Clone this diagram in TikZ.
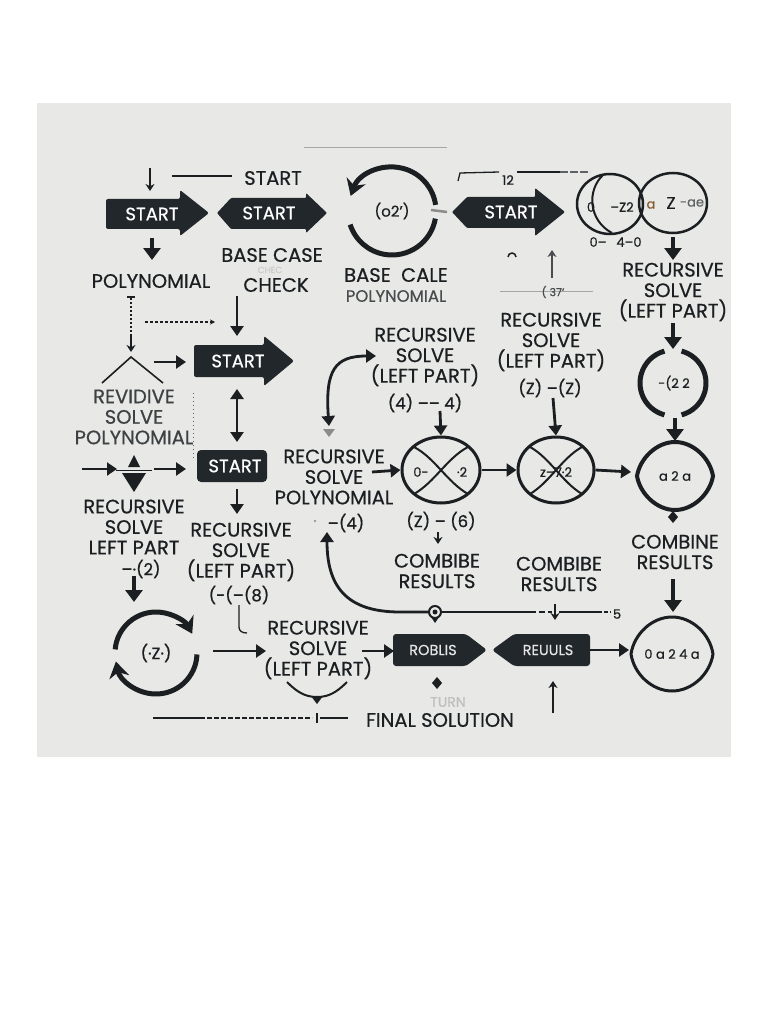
\documentclass[tikz,border=0pt]{standalone}
\usepackage{fontspec}
\setmainfont{Poppins}[FakeBold=0.6]
\usetikzlibrary{arrows.meta,shapes.geometric,calc}
\definecolor{bg}{HTML}{E8E8E6}
\definecolor{ink}{HTML}{1B1F22}
\definecolor{boxc}{HTML}{21272B}
\begin{document}
\begin{tikzpicture}[x=1pt,y=-1pt,
 lbl/.style={font=\fontsize{19.5}{20.5}\selectfont, align=center, text=ink, inner sep=0pt},
 sm/.style={font=\fontsize{13}{14}\selectfont, text=ink, inner sep=0pt},
 smb/.style={font=\fontsize{16.5}{17}\selectfont, text=ink, inner sep=0pt},
 wt/.style={font=\fontsize{18}{19}\selectfont, text=white, inner sep=0pt},
 arr/.style={line width=2.8pt, draw=ink, -{Triangle[length=10pt,width=13pt]}},
 bigarr/.style={line width=3.2pt, draw=ink, -{Triangle[length=12pt,width=17pt]}},
 darr/.style={line width=2.8pt, draw=ink, {Triangle[length=10pt,width=13pt]}-{Triangle[length=10pt,width=13pt]}},
 tarr/.style={line width=1.5pt, draw=ink, -{Stealth[length=7pt,width=9pt]}},
 tline/.style={line width=1.3pt, draw=ink},
 ring/.style={line width=5pt, draw=ink},
]
\useasboundingbox (0,0) rectangle (768,1024);
\fill[white] (0,0) rectangle (768,1024);
\fill[bg] (37,103) rectangle (731,757);

% ---------- top row ----------
\coordinate (ta1) at (150,168); \coordinate (ta2) at (150,191);
\draw[tarr] (ta1) -- (ta2);
\node[lbl] (startT) at (273,178) {START};
\coordinate (tl) at (172,176);
\draw[tline] (tl) -- (232,176);

\fill[boxc, rounded corners=2pt] (106,199) -- (180,199) -- (180,190) -- (209,213) -- (180,236) -- (180,229) -- (106,229) -- cycle;
\node[wt] (b1) at (152,214) {START};
\fill[boxc, rounded corners=1pt] (217,213) -- (231,198) -- (306,198) -- (306,193) -- (327,213) -- (306,233) -- (306,229) -- (231,229) -- cycle;
\node[wt] (b2) at (269,213) {START};

\coordinate (d1a) at (152,238);
\coordinate (d1b) at (152,260);
\node[lbl] (poly1) at (151,281) {POLYNOMIAL};
\draw[bigarr] (d1a) -- (d1b);

\node[lbl] (base1) at (272,255) {BASE CASE};
\node[font=\fontsize{9}{10}\selectfont, text=black!20, inner sep=0pt] (ghost) at (270,270) {CHEC};
\node[lbl] (check) at (276,285) {CHECK};

% ring 1
\coordinate (c1) at (392,211);
\draw[ring, {Stealth[length=16pt,width=20pt]}-] (c1) ++(200:44) arc[start angle=200,end angle=352,radius=44];
\draw[ring] (c1) ++(10:44) arc[start angle=10,end angle=162,radius=44];
\node[font=\fontsize{15}{16}\selectfont, text=ink, inner sep=0pt] (c1t) at (c1) {(o2')};
\draw[black!45, line width=2.5pt] (431,210) -- (447,212);

\node[lbl] (base2) at (396,275) {BASE~ CALE};
\node[font=\fontsize{16.5}{17}\selectfont, text=ink!80, inner sep=0pt] (poly2) at (396,296) {POLYNOMIAL};

\draw[black!35, line width=1pt] (304,148) -- (447,148);
\draw[tline] (458,181) -- (460,173) -- (499,172);
\node[sm] (n12) at (508,180) {12};
\draw[tline] (517,172) -- (560,172);
\draw[tline, ink!70, dash pattern=on 8pt off 2pt] (560,172) -- (590,172);

\fill[boxc, rounded corners=1pt] (452,212) -- (467,197) -- (535,197) -- (535,188) -- (565,212) -- (535,236) -- (535,228) -- (467,228) -- cycle;
\node[wt] (b3) at (511,212) {START};

% double circle
\node[ellipse, draw=ink, line width=2.5pt, minimum width=66pt, minimum height=60pt, inner sep=0pt] (c2) at (610,204) {};
\node[ellipse, draw=ink, line width=2.5pt, minimum width=68pt, minimum height=60pt, inner sep=0pt] (c3) at (673,203) {};
\draw[ink, line width=2pt] (603,175) .. controls (587,190) and (588,220) .. (612,233);
\node[sm] (c2a) at (591,207) {0};
\node[sm] (c2b) at (622,207) {–Z2};
\node[sm, text=brown!70!black] (c2c) at (651,205) {a};
\node[font=\fontsize{17}{18}\selectfont, text=ink, inner sep=0pt] (c2d) at (671,203) {Z};
\node[sm, text=ink!70] (c2e) at (692,203) {-ae};
\node[sm] (c2f) at (598,242) {0–};
\node[sm] (c2g) at (629,242) {4–0};

\node[lbl] (rsR) at (673,292) {RECURSIVE\\SOLVE\\(LEFT PART)};
\coordinate (d2a) at (673,237);
\coordinate (d2b) at (673,260);
\draw[bigarr] (d2a) -- (d2b);

% faint marks
\draw[ink, line width=1.5pt] (508,257) arc[start angle=180,end angle=360,radius=4];
\draw[tarr, draw=ink!80] (552,278) -- (552,250);
\draw[black!35, line width=1pt] (500,291) -- (593,291);
\node[font=\fontsize{11}{12}\selectfont, text=ink!80, inner sep=0pt] at (553,292) {(~37'};

% ---------- middle left ----------
\draw[ink, line width=1.3pt] (127,297) -- (135,297);
\draw[ink, line width=1.2pt, dash pattern=on 2pt off 2pt] (131,298) -- (131,334);
\draw[tarr] (131,334) -- (131,352);
\draw[ink, line width=1.2pt, dash pattern=on 3pt off 2pt, -{Stealth[length=5pt,width=5pt]}] (145,322) -- (215,322);
\draw[ink, line width=1.6pt] (102,383) -- (131,357) -- (163,383);
\draw[arr] (154,362) -- (186,362);

\fill[boxc, rounded corners=2pt] (194,345) -- (264,345) -- (264,336) -- (294,361) -- (264,386) -- (264,377) -- (194,377) -- cycle;
\node[wt] (b4) at (238,361) {START};
\draw[arr] (237,296) -- (237,336);
\draw[darr] (237,389) -- (237,442);

\node[lbl, text=ink!85] (revid) at (134,417) {REVIDIVE\\SOLVE\\POLYNOMIAL};
\draw[ink!70, line width=1pt, dash pattern=on 1pt off 3pt] (193,393) -- (193,458);

\draw[arr, line width=2pt] (82,469) -- (117,469);
\fill[ink] (128,467) -- (134,455) -- (140,467) -- cycle;
\fill[ink] (122,473) -- (146,473) -- (134,492) -- cycle;
\draw[ink, line width=1pt] (116,470) -- (152,470);
\draw[arr] (154,469) -- (186,469);

\fill[boxc, rounded corners=4pt] (197,450) rectangle (267,482);
\node[wt] (b5) at (235,466) {START};
\draw[arr] (237,489) -- (237,514);

\node[lbl] (rsL) at (134,527) {RECURSIVE\\SOLVE\\LEFT PART};
\node[smb] (n2) at (141,569) {–·(2)};
\draw[bigarr] (134,576) -- (134,602);

\node[lbl] (rsM) at (241,552) {RECURSIVE\\SOLVE\\(LEFT PART)};
\node[smb] (n8) at (239,595) {(-(–(8)};
\draw[tline] (239,605) -- (239,627) .. controls (239,631) and (242,633) .. (247,633);

% curved double arrow
\draw[darr] (329,426) .. controls (325,370) and (335,356) .. (376,356);
\fill[black!45] (323,429) -- (335,429) -- (329,437) -- cycle;

\node[lbl] (rsC) at (425,357) {RECURSIVE\\SOLVE\\(LEFT PART)};
\node[smb] (n4) at (425,403) {(4) –– 4)};

\node[lbl] (rsP) at (334,477) {RECURSIVE\\SOLVE\\POLYNOMIAL};
\node[smb] (n4b) at (346,523) {–(4)};
\fill[black!40] (315,521) circle[radius=1.3];

% X circle 1
\node[ellipse, draw=ink, line width=3pt, minimum width=78pt, minimum height=66pt, inner sep=0pt] (x1) at (441,470) {};
\draw[ink, line width=2pt] (414,447) .. controls (435,458) and (447,482) .. (468,494);
\draw[ink, line width=2pt] (468,447) .. controls (447,458) and (435,482) .. (414,494);
\node[sm] at (421,472) {0-};
\node[sm] at (462,472) {·2};
\draw[arr] (440,411) -- (x1.north);
\draw[arr] (372,472) -- (x1.west);

\node[smb] (n6) at (441,521) {(Z) – (6)};
\draw[tarr, line width=1.2pt] (438,532) -- (438,544);
\node[lbl] (cb1) at (437,571) {COMBIBE\\RESULTS};

% X circle 2
\node[ellipse, draw=ink, line width=3pt, minimum width=76pt, minimum height=66pt, inner sep=0pt] (x2) at (556,470) {};
\draw[ink, line width=2pt] (530,447) .. controls (550,458) and (562,482) .. (582,494);
\draw[ink, line width=2pt] (582,447) .. controls (562,458) and (550,482) .. (530,494);
\node[sm] at (556,472) {z–7·2};
\draw[arr] (x1.east) -- (x2.west);

\node[lbl] (rsC2) at (551,342) {RECURSIVE\\SOLVE\\(LEFT PART)};
\node[smb] (nz) at (550,388) {(Z) –(Z)};
\draw[arr] (553,398) -- (x2.north);

% right column
\coordinate (c4) at (673,383);
\draw[bigarr] (673,323) -- (673,349);
\draw[ring] (c4) ++(105:33) arc[start angle=105,end angle=255,radius=33];
\draw[ring] (c4) ++(-75:33) arc[start angle=-75,end angle=75,radius=33];
\node[sm] at (674,383) {-(2 2};
\draw[bigarr] (675,418) -- (675,441);

\draw[ink, line width=4pt] (637,476) .. controls (640,458) and (657,442) .. (675,442) .. controls (693,442) and (710,458) .. (713,476) .. controls (710,494) and (693,510) .. (675,510) .. controls (657,510) and (640,494) .. (637,476) -- cycle;
\coordinate (c5) at (675,476);
\node[sm] (c5t) at (c5) {a 2 a};
\draw[arr] (x2.east) -- (631,472);
\fill[ink] (673,511) -- (678,517) -- (673,523) -- (668,517) -- cycle;

\node[lbl] (cbR) at (675,552) {COMBINE\\RESULTS};
\draw[ink, line width=3pt] (631,654) .. controls (634,634) and (652,617) .. (672,617) .. controls (692,617) and (710,634) .. (713,654) .. controls (710,674) and (692,691) .. (672,691) .. controls (652,691) and (634,674) .. (631,654) -- cycle;
\coordinate (c6) at (672,654);
\node[sm] (c6t) at (c6) {0 a 2 4 a};
\draw[bigarr] (673,579) -- (673,612);

\node[lbl] (cb2) at (559,574) {COMBIBE\\RESULTS};

% big return curve
\node[circle, draw=ink, line width=2pt, inner sep=0pt, minimum size=12pt] (mk) at (435,612) {};
\fill[ink] (mk) circle[radius=2.5];
\fill[ink] (431,617) -- (439,617) -- (435,623) -- cycle;
\coordinate (rtip) at (327,532);
\draw[arr] (mk.west) -- (400,612) .. controls (345,612) and (327,585) .. (rtip);
\draw[ink, line width=1.5pt] (mk.east) -- (530,612);
\draw[ink, line width=1.3pt, dash pattern=on 6pt off 3pt] (530,612) -- (552,612);
\draw[tarr, line width=1.2pt] (555,604) -- (555,620);
\draw[ink, line width=1.3pt] (559,612) -- (598,612);
\draw[ink, line width=1.3pt, dash pattern=on 4pt off 2pt] (598,612) -- (611,612);
\node[sm] (n5) at (617,614) {5};

% result boxes
\fill[boxc, rounded corners=3pt] (393,634) -- (466,634) -- (487,650) -- (466,666) -- (393,666) -- cycle;
\node[font=\fontsize{14.5}{15}\selectfont, text=white!90!black, inner sep=0pt] (rob) at (433,650) {ROBLIS};
\fill[boxc, rounded corners=3pt] (492,650) -- (514,634) -- (590,634) -- (590,666) -- (514,666) -- cycle;
\node[font=\fontsize{14.5}{15}\selectfont, text=white!90!black, inner sep=0pt] (reu) at (548,650) {REUULS};
\draw[arr] (590,650) -- (629,650);

\fill[ink] (437,677) -- (442,683) -- (437,689) -- (432,683) -- cycle;
\node[font=\fontsize{14}{15}\selectfont, text=black!25, inner sep=0pt] (turn) at (448,702) {TURN};
\draw[tarr, line width=1.2pt] (553,713) -- (553,681);

% bottom left ring
\coordinate (c7) at (156,653);
\draw[ring, -{Stealth[length=16pt,width=20pt]}] (c7) ++(185:41) arc[start angle=185,end angle=332,radius=41];
\draw[ring, -{Stealth[length=16pt,width=20pt]}] (c7) ++(2:41) arc[start angle=2,end angle=168,radius=41];
\node[smb] (c7t) at (c7) {(·Z·)};
\node[lbl] (rsB) at (318,650) {RECURSIVE\\SOLVE\\(LEFT PART)};
\draw[arr] (213,651) -- (266,651);
\draw[arr] (362,651) -- (394,651);
\draw[ink, line width=2pt] (287,682) .. controls (297,692) and (305,697) .. (317,697) .. controls (329,697) and (337,692) .. (347,682);
\fill[ink] (311,696) -- (323,696) -- (317,704) -- cycle;

\draw[ink, line width=1.2pt] (153,718) -- (200,718);
\draw[ink, line width=1.2pt, dash pattern=on 5pt off 2pt] (200,718) -- (312,718);
\draw[ink, line width=1.5pt] (317,713) -- (317,723);
\draw[ink, line width=1.2pt] (320,718) -- (348,718);
\node[lbl] (final) at (440,720) {FINAL SOLUTION};
\end{tikzpicture}
\end{document}
